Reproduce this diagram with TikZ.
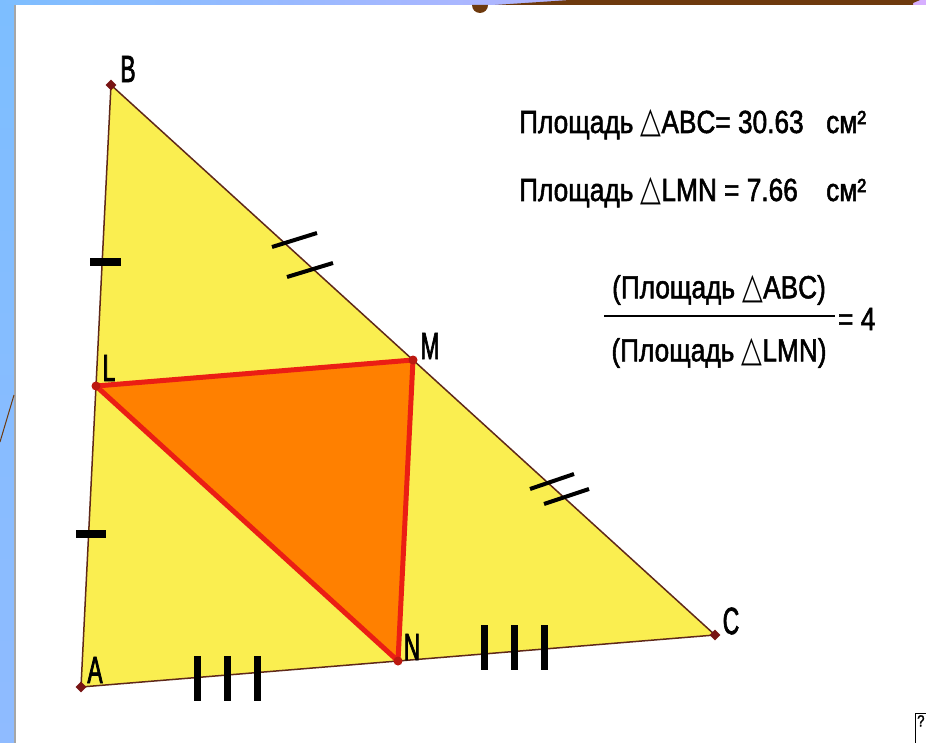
\documentclass[tikz,border=0pt]{standalone}
\usepackage{fontspec}
\setmainfont{Liberation Sans}[FakeStretch=0.82, FakeBold=1.6]
\newfontfamily\labfont{Liberation Sans}[FakeStretch=0.6, FakeBold=1.8]
\newfontfamily\symfont{DejaVu Sans}[FakeStretch=0.75]
\usetikzlibrary{calc,shapes.geometric}
\definecolor{triyellow}{RGB}{250,238,80}
\definecolor{triorange}{RGB}{255,128,0}
\definecolor{sidebrown}{RGB}{95,40,25}
\definecolor{midred}{RGB}{235,30,20}
\definecolor{ptred}{RGB}{120,20,20}
\definecolor{skyblue}{RGB}{125,190,255}
\definecolor{skylav}{RGB}{215,175,255}
\definecolor{topbrown}{RGB}{110,58,14}
\newcommand{\tri}{{\symfont\fontsize{36}{38}\selectfont △}}
\tikzset{
  sideline/.style={draw=sidebrown, line width=1.5pt},
  midline/.style={draw=midred, line width=5pt, line join=round},
  vertex/.style={diamond, fill=ptred, inner sep=0pt, minimum size=11pt},
  midpoint/.style={circle, fill=midred!80!black, inner sep=0pt, minimum size=9pt},
  lab/.style={font=\labfont\fontsize{38}{40}\selectfont},
  areatext/.style={font=\fontsize{32}{34}\selectfont, inner sep=0pt},
  onebar/.style={line width=8pt},
  twobar/.style={line width=4pt},
  threebar/.style={line width=7pt}
}
\begin{document}
\begin{tikzpicture}[x=1pt, y=-1pt]
\useasboundingbox (0,0) rectangle (926,743);
\clip (0,0) rectangle (926,743);
% background of the slide
\fill[white] (0,0) rectangle (926,743);
\shade[left color=skyblue, right color=skylav] (0,0) rectangle (926,5);
\shade[top color=skyblue, bottom color=skyblue!80!skylav] (0,5) rectangle (14,743);
\draw[gray!70, line width=1.5pt] (15,5) -- (15,743);
\fill[topbrown] (472,5) arc[start angle=180, end angle=0, radius=8];
\fill[topbrown] (495,5) -- (570,0) -- (920,0) -- (913,3) -- (913,5) -- cycle;
\draw[topbrown, line width=1pt] (0,442) -- (14,395);
% triangle ABC and midpoints
\coordinate (A) at (81,687);
\coordinate (B) at (111,85);
\coordinate (C) at (715,635);
\coordinate (L) at ($(A)!0.5!(B)$);
\coordinate (M) at ($(B)!0.5!(C)$);
\coordinate (N) at ($(A)!0.5!(C)$);
\fill[triyellow] (A) -- (B) -- (C) -- cycle;
\fill[triorange] (L) -- (M) -- (N) -- cycle;
\draw[sideline] (A) -- (B) -- (C) -- cycle;
\draw[midline] (L) -- (M) -- (N) -- cycle;
\node[vertex] (pA) at (A) {};
\node[vertex] (pB) at (B) {};
\node[vertex] (pC) at (C) {};
\node[midpoint] (pL) at (L) {};
\node[midpoint] (pM) at (M) {};
\node[midpoint] (pN) at (N) {};
\node[lab] (labB) at (128,69) {B};
\node[lab] (labL) at (109,368) {L};
\node[lab] (labM) at (430,346) {M};
\node[lab] (labA) at (95,670) {A};
\node[lab] (labN) at (412,647) {N};
\node[lab] (labC) at (731,621) {C};
% equal segments
\draw[onebar] (90,262) -- (121,262);
\draw[onebar] (76,534) -- (106,534);
\draw[twobar] (272,247) -- (317,233);
\draw[twobar] (287,277) -- (333,263);
\draw[twobar] (530,489) -- (574,474);
\draw[twobar] (544,504) -- (589,489);
\foreach \x in {197,227,257} \draw[threebar] (\x,656) -- (\x,701);
\foreach \x in {484,514,544} \draw[threebar] (\x,625) -- (\x,670);
% areas
\node[areatext, anchor=base west] (areaABC) at (519,133) {Площадь \tri ABC= 30.63};
\node[areatext, anchor=base west] (unitABC) at (826,133) {см²};
\node[areatext, anchor=base west] (areaLMN) at (519,201) {Площадь \tri LMN = 7.66};
\node[areatext, anchor=base west] (unitLMN) at (826,201) {см²};
\node[areatext] (numer) at (719,290) {(Площадь \tri ABC)};
\node[areatext] (denom) at (719,353) {(Площадь \tri LMN)};
\coordinate (barL) at (604,316);
\coordinate (barR) at (835,316);
\draw[line width=2pt] (barL) -- (barR);
\node[areatext, anchor=west] (ratio) at (838,319) {= 4};
\node[anchor=north west, inner sep=2pt, font=\fontsize{16}{18}\selectfont] (help) at (915,713) {?};
\draw[line width=1pt] (help.north west) -- ++(0,40) (help.north west) -- ++(20,0);
\end{tikzpicture}
\end{document}
